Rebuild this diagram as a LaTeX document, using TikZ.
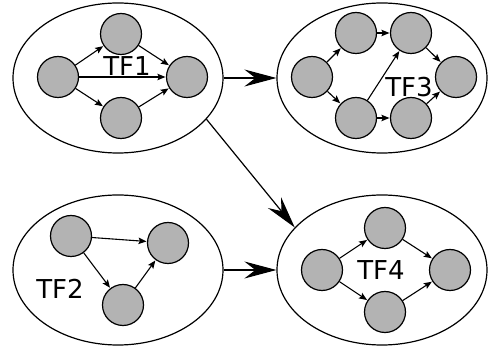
\documentclass[tikz,border=0pt]{standalone}
\usepackage{fontspec}
\setmainfont{DejaVu Sans}
\usetikzlibrary{shapes.geometric,arrows.meta}
\definecolor{nodegray}{RGB}{179,179,179}
\tikzset{
  group/.style={draw, ellipse, line width=1.2pt, minimum width=210pt, minimum height=150pt, inner sep=0pt},
  st/.style={draw, circle, fill=nodegray, line width=1.2pt, minimum size=41pt, inner sep=0pt},
  edge/.style={line width=1.1pt, -{Stealth[length=8pt,width=6.5pt,inset=1.5pt]}, shorten >=0.5pt},
  flow/.style={line width=1.2pt, -{Stealth[length=32pt,width=17pt,inset=11pt]}},
  lbl/.style={font=\fontsize{26}{30}\selectfont, inner sep=0pt}
}
\begin{document}
\begin{tikzpicture}[x=1pt,y=-1pt]
\useasboundingbox (0,0) rectangle (488,347);

% the four group ellipses
\node[group] (tf1) at (118,78) {};
\node[group] (tf3) at (382,78) {};
\node[group] (tf2) at (118,270) {};
\node[group] (tf4) at (382,270) {};

% TF1
\node[st] (a1) at (58,77) {};
\node[st] (a2) at (121,34) {};
\node[st] (a3) at (121,118) {};
\node[st] (a4) at (187,77) {};
\draw[edge] (a1) -- (a2);
\draw[edge] (a1) -- (a3);
\draw[edge] (a1) -- (a4);
\draw[edge] (a2) -- (a4);
\draw[edge] (a3) -- (a4);
\node[lbl] (l1) at (127,66) {TF1};

% TF3
\node[st] (b1) at (312,77) {};
\node[st] (b2) at (356,33) {};
\node[st] (b3) at (411,33) {};
\node[st] (b4) at (456,77) {};
\node[st] (b5) at (356,118) {};
\node[st] (b6) at (411,118) {};
\draw[edge] (b1) -- (b2);
\draw[edge] (b1) -- (b5);
\draw[edge] (b2) -- (b3);
\draw[edge] (b5) -- (b3);
\draw[edge] (b5) -- (b6);
\draw[edge] (b3) -- (b4);
\draw[edge] (b6) -- (b4);
\node[lbl] (l3) at (409,87) {TF3};

% TF2
\node[st] (c1) at (71,236) {};
\node[st] (c2) at (168,243) {};
\node[st] (c3) at (123,305) {};
\draw[edge] (c1) -- (c2);
\draw[edge] (c1) -- (c3);
\draw[edge] (c3) -- (c2);
\node[lbl] (l2) at (60,289) {TF2};

% TF4
\node[st] (d1) at (322,270) {};
\node[st] (d2) at (385,228) {};
\node[st] (d3) at (385,312) {};
\node[st] (d4) at (450,270) {};
\draw[edge] (d1) -- (d2);
\draw[edge] (d1) -- (d3);
\draw[edge] (d2) -- (d4);
\draw[edge] (d3) -- (d4);
\node[lbl] (l4) at (381,270) {TF4};

% flows between groups
\draw[flow] (tf1.0) -- (tf3.180);
\draw[flow] (tf2.0) -- (tf4.180);
\draw[flow] (tf1.-25) -- (tf4.154);
\end{tikzpicture}
\end{document}
